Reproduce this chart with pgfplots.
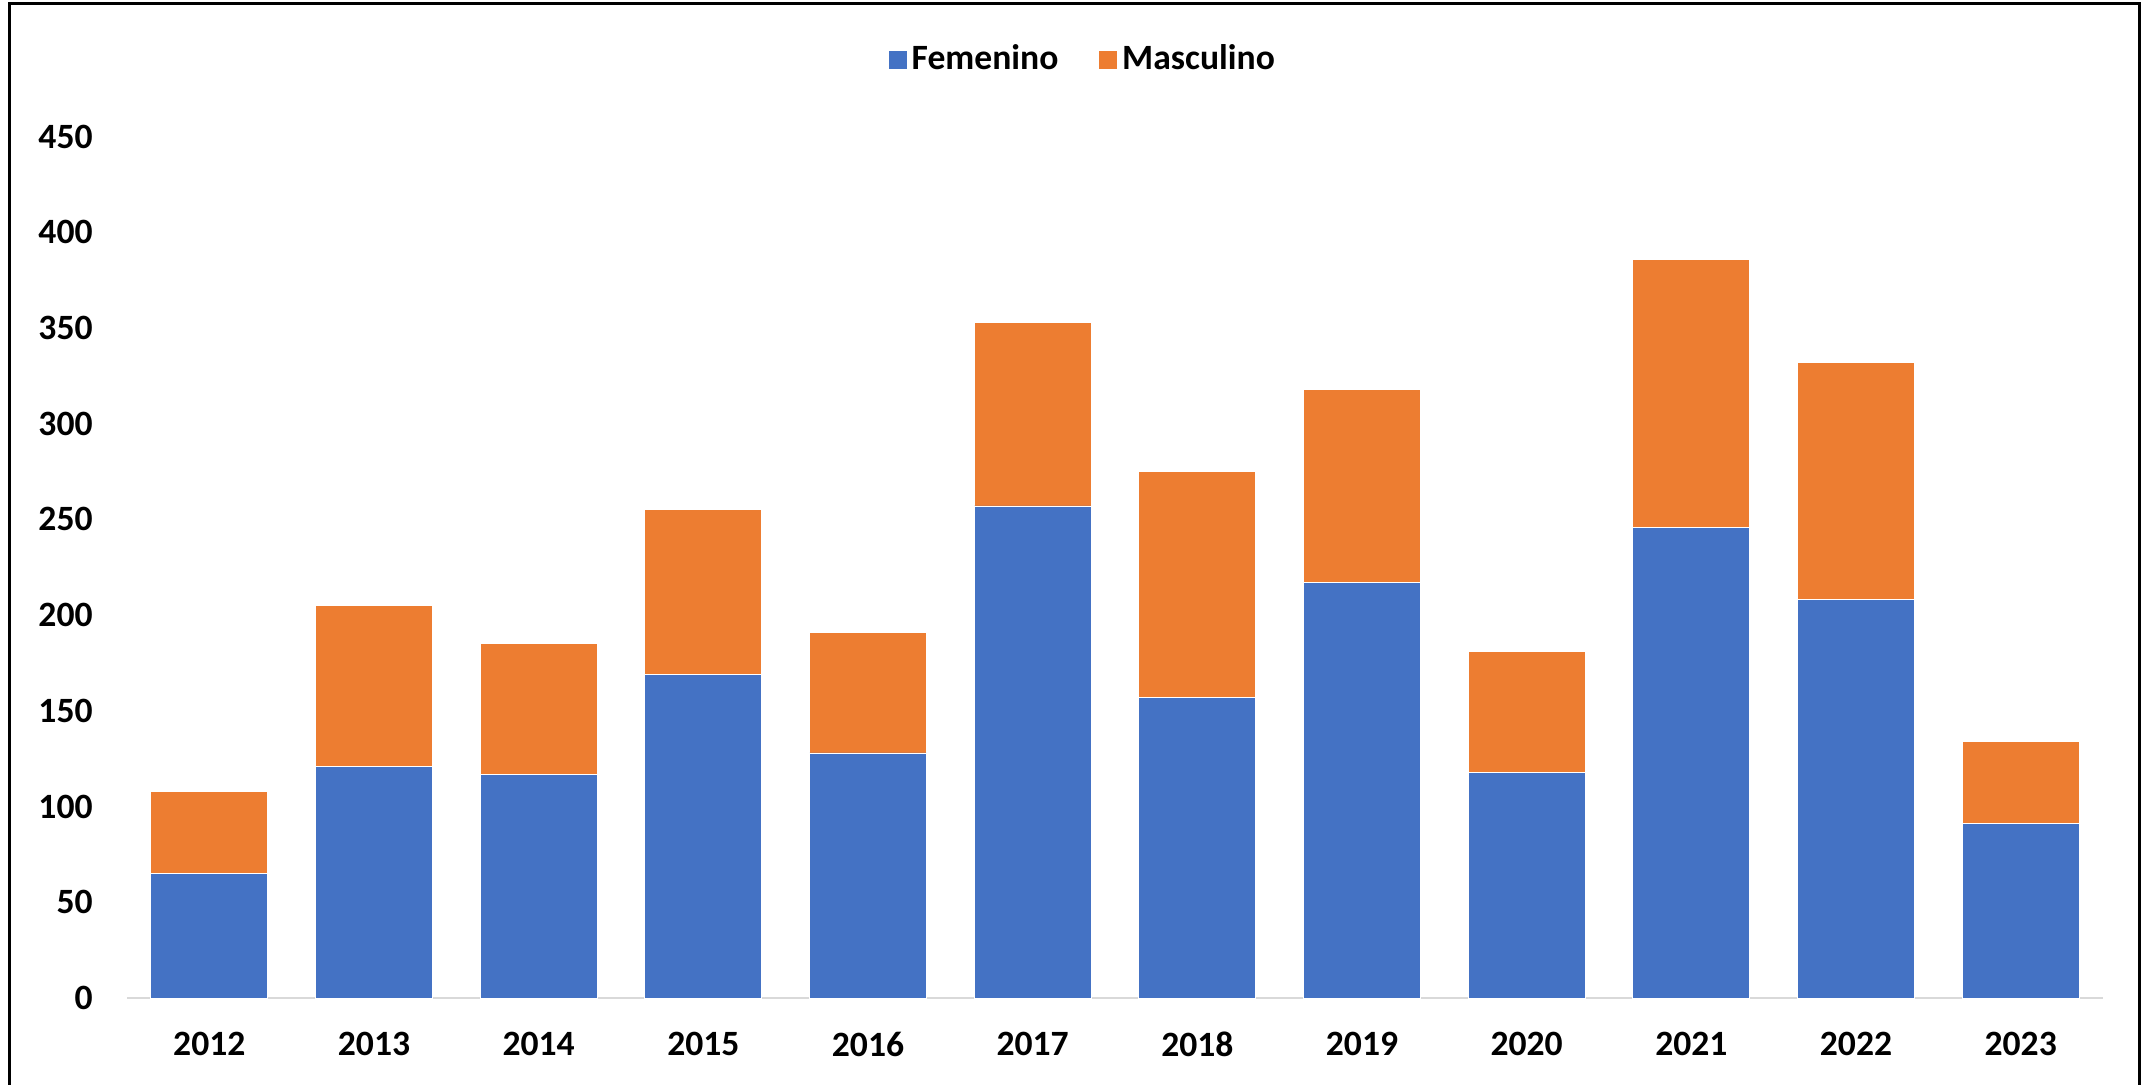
\documentclass[border=0pt]{standalone}
\usepackage{fontspec}
\setmainfont{Carlito}
\usepackage{pgfplots}
\pgfplotsset{compat=1.18}
\definecolor{cblue}{HTML}{4472C4}
\definecolor{corange}{HTML}{ED7D31}
\definecolor{cgrid}{HTML}{D9D9D9}
\begin{document}
\fontsize{17.8pt}{21pt}\selectfont
\begin{tikzpicture}[x=1pt,y=1pt]
\useasboundingbox (0,0) rectangle (1070.5,542);
\begin{scope}
\clip (0,0) rectangle (1070.5,542);
\draw[black, line width=1.6pt] (4.9,-10) -- (4.9,540.2) -- (1069.9,540.2) -- (1069.9,-10);
\end{scope}
\begin{axis}[
  at={(63.5pt,43pt)}, anchor=south west,
  scale only axis, width=988pt, height=430.75pt,
  ybar stacked, bar width=0.71,
  xmin=-0.5, xmax=11.5, ymin=0, ymax=450,
  xtick=data,
  xticklabels={2012,2013,2014,2015,2016,2017,2018,2019,2020,2021,2022,2023},
  ytick={0,50,...,450},
  axis x line*=bottom, axis y line*=left,
  x axis line style={cgrid, line width=1.2pt, -},
  y axis line style={draw=none},
  major tick length=0pt,
  tick style={draw=none},
  yticklabel style={anchor=east, inner sep=0pt, xshift=-17pt, font=\bfseries\fontsize{17.8pt}{21pt}\selectfont},
  xticklabel style={anchor=north, inner sep=0pt, yshift=-17pt, font=\bfseries\fontsize{17.8pt}{21pt}\selectfont},
  /pgf/number format/assume math mode=true,
  legend style={at={(0.484,1.089)}, anchor=center, draw=none, fill=none,
    legend columns=2, font=\bfseries\fontsize{17.8pt}{21pt}\selectfont,
    /tikz/every even column/.append style={column sep=18pt}},
  legend image code/.code={\fill[#1] (0pt,-4.75pt) rectangle (9.5pt,4.75pt);},
]
\addplot[fill=cblue, draw=white, line width=0.4pt] coordinates {
(0,65) (1,121) (2,117) (3,169) (4,128) (5,257) (6,157) (7,217) (8,118) (9,246) (10,208) (11,91)};
\addplot[fill=corange, draw=white, line width=0.4pt] coordinates {
(0,43) (1,84) (2,68) (3,86) (4,63) (5,96) (6,118) (7,101) (8,63) (9,140) (10,124) (11,43)};
\legend{Femenino, Masculino}
\end{axis}
\end{tikzpicture}
\end{document}
